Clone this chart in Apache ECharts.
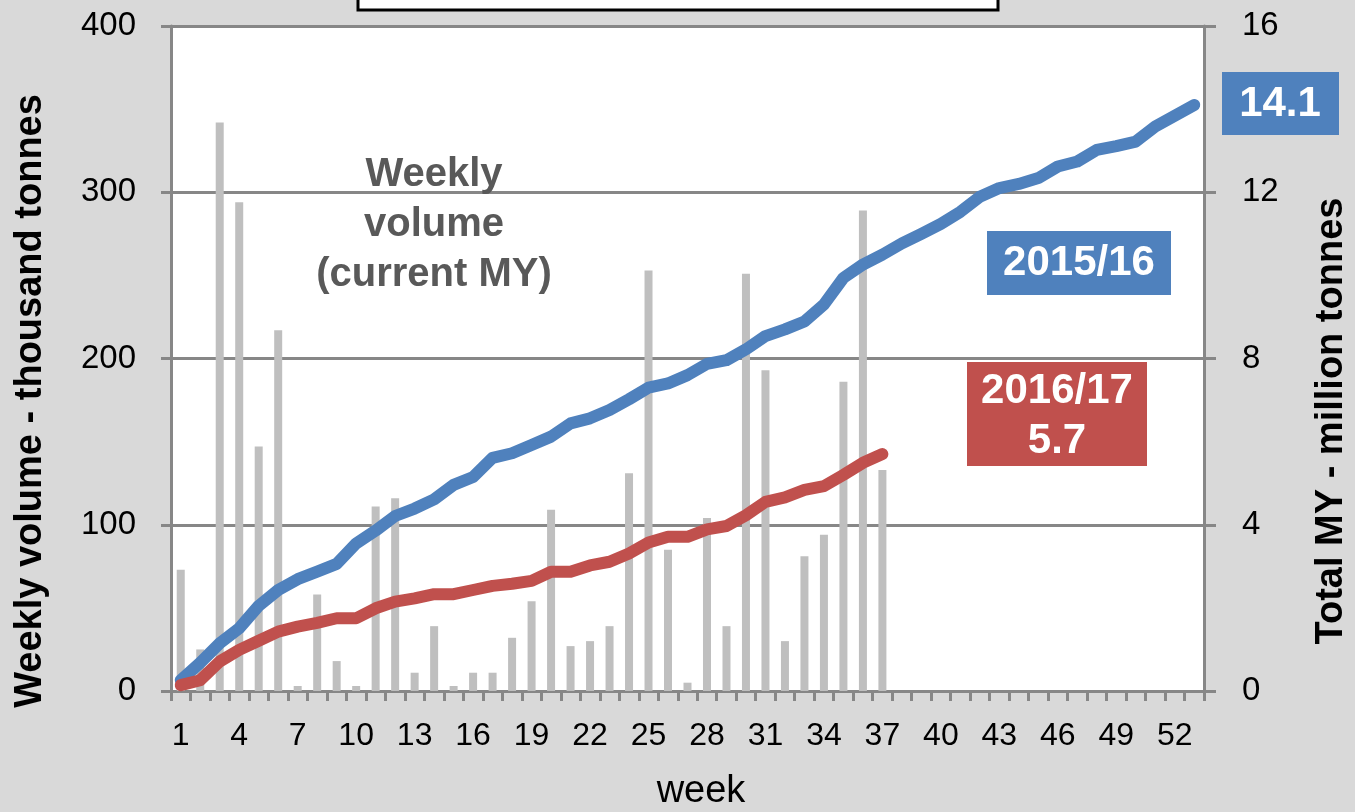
<!DOCTYPE html>
<html>
<head>
<meta charset="utf-8">
<script src="https://cdn.jsdelivr.net/npm/echarts@6/dist/echarts.min.js"></script>
<style>
  html, body { margin: 0; padding: 0; background: #D9D9D9; }
  #chart { width: 1355px; height: 812px; }
</style>
</head>
<body>
<div id="chart"></div>
<script>
// Week numbers of the marketing year
const weeks = Array.from({ length: 53 }, (_, i) => String(i + 1));

// Weekly volume, current MY (thousand tonnes)
const weeklyVolume = [73, 25, 342, 294, 147, 217, 3, 58, 18, 3, 111, 116, 11, 39, 3, 11, 11, 32, 54, 109,
  27, 30, 39, 131, 253, 85, 5, 104, 39, 251, 193, 30, 81, 94, 186, 289, 133];

// Cumulative total, 2015/16 (million tonnes)
const total1516 = [0.26, 0.68, 1.15, 1.51, 2.05, 2.43, 2.69, 2.87, 3.06, 3.55,
  3.86, 4.21, 4.39, 4.61, 4.96, 5.15, 5.61, 5.72, 5.92, 6.12,
  6.44, 6.56, 6.76, 7.02, 7.30, 7.40, 7.60, 7.87, 7.96, 8.22,
  8.54, 8.70, 8.89, 9.30, 9.94, 10.26, 10.50, 10.77, 11.00, 11.24,
  11.53, 11.89, 12.10, 12.20, 12.34, 12.62, 12.74, 13.02, 13.11, 13.22,
  13.58, 13.84, 14.1];

// Cumulative total, 2016/17 (million tonnes)
const total1617 = [0.14, 0.26, 0.71, 0.99, 1.21, 1.43, 1.55, 1.64, 1.75, 1.75,
  1.99, 2.15, 2.23, 2.33, 2.33, 2.43, 2.53, 2.58, 2.65, 2.87,
  2.87, 3.02, 3.11, 3.31, 3.57, 3.71, 3.71, 3.89, 3.97, 4.23,
  4.55, 4.66, 4.84, 4.93, 5.20, 5.49, 5.7];

const seasonNames = ['2015/16', '2016/17'];

const FONT = '"Liberation Sans", Arial, sans-serif';
const AXIS_GRAY = '#878787';
const BLUE = '#4F81BD';
const RED = '#C0504D';

const last1516 = total1516[total1516.length - 1].toFixed(1);
const last1617 = total1617[total1617.length - 1].toFixed(1);

const chart = echarts.init(document.getElementById('chart'), null, { renderer: 'canvas' });

chart.setOption({
  backgroundColor: '#D9D9D9',
  animation: false,
  grid: {
    left: 171, right: 151, top: 26, bottom: 121,
    show: true, backgroundColor: '#FFFFFF', borderWidth: 0
  },
  xAxis: {
    type: 'category',
    data: weeks,
    boundaryGap: true,
    axisLine: { show: true, lineStyle: { color: AXIS_GRAY, width: 3 } },
    axisTick: { show: true, interval: 0, length: 10, lineStyle: { color: AXIS_GRAY, width: 3 } },
    axisLabel: { interval: 2, margin: 29, fontSize: 32, fontFamily: FONT, color: '#000' },
    splitLine: { show: false }
  },
  yAxis: [
    {
      type: 'value', min: 0, max: 400, interval: 100, position: 'left',
      axisLine: { show: true, lineStyle: { color: AXIS_GRAY, width: 3 } },
      axisTick: { show: true, length: 10, lineStyle: { color: AXIS_GRAY, width: 3 } },
      axisLabel: { margin: 35, fontSize: 33, fontFamily: FONT, color: '#000' },
      splitLine: { show: true, lineStyle: { color: AXIS_GRAY, width: 3 } }
    },
    {
      type: 'value', min: 0, max: 16, interval: 4, position: 'right',
      axisLine: { show: true, lineStyle: { color: AXIS_GRAY, width: 3 } },
      axisTick: { show: true, length: 12, lineStyle: { color: AXIS_GRAY, width: 3 } },
      axisLabel: { margin: 38, fontSize: 33, fontFamily: FONT, color: '#000' },
      splitLine: { show: false }
    }
  ],
  series: [
    {
      name: 'Weekly volume',
      type: 'bar',
      yAxisIndex: 0,
      data: weeklyVolume,
      barWidth: 8,
      itemStyle: { color: '#BFBFBF' },
      z: 2
    },
    {
      name: seasonNames[0],
      type: 'line',
      yAxisIndex: 1,
      data: total1516,
      symbol: 'none',
      lineStyle: { color: BLUE, width: 12, cap: 'round', join: 'round' },
      z: 3
    },
    {
      name: seasonNames[1],
      type: 'line',
      yAxisIndex: 1,
      data: total1617,
      symbol: 'none',
      lineStyle: { color: RED, width: 12, cap: 'round', join: 'round' },
      z: 4
    }
  ],
  graphic: [
    // Frame of the heading box at the top edge
    {
      type: 'rect',
      shape: { x: 358, y: -10, width: 640, height: 20 },
      style: { fill: '#FFFFFF', stroke: '#000000', lineWidth: 3 }
    },
    // Axis titles
    {
      type: 'text', x: 31, y: 401, rotation: Math.PI / 2,
      style: {
        text: 'Weekly volume - thousand tonnes', fill: '#000',
        font: 'bold 38px ' + FONT, align: 'center', verticalAlign: 'middle'
      }
    },
    {
      type: 'text', x: 1332, y: 421, rotation: Math.PI / 2,
      style: {
        text: 'Total MY - million tonnes', fill: '#000',
        font: 'bold 38px ' + FONT, align: 'center', verticalAlign: 'middle'
      }
    },
    {
      type: 'text', x: 701, y: 792,
      style: {
        text: 'week', fill: '#000',
        font: '38px ' + FONT, align: 'center', verticalAlign: 'middle'
      }
    },
    // Bar series caption
    {
      type: 'text', x: 434, y: 225, z: 10,
      style: {
        text: 'Weekly\nvolume\n(current MY)', fill: '#595959',
        font: 'bold 40px ' + FONT, lineHeight: 50, align: 'center', verticalAlign: 'middle'
      }
    },
    // Season tags
    {
      type: 'group', z: 10,
      children: [
        { type: 'rect', shape: { x: 1222, y: 72, width: 117, height: 63 }, style: { fill: BLUE } },
        {
          type: 'text', x: 1280, y: 104,
          style: { text: last1516, fill: '#fff', font: 'bold 42px ' + FONT, align: 'center', verticalAlign: 'middle' }
        },
        { type: 'rect', shape: { x: 987, y: 231, width: 184, height: 64 }, style: { fill: BLUE } },
        {
          type: 'text', x: 1079, y: 263,
          style: { text: seasonNames[0], fill: '#fff', font: 'bold 42px ' + FONT, align: 'center', verticalAlign: 'middle' }
        },
        { type: 'rect', shape: { x: 967, y: 362, width: 180, height: 104 }, style: { fill: RED } },
        {
          type: 'text', x: 1057, y: 416,
          style: {
            text: seasonNames[1] + '\n' + last1617, fill: '#fff', font: 'bold 42px ' + FONT,
            lineHeight: 50, align: 'center', verticalAlign: 'middle'
          }
        }
      ]
    }
  ]
});
</script>
</body>
</html>
